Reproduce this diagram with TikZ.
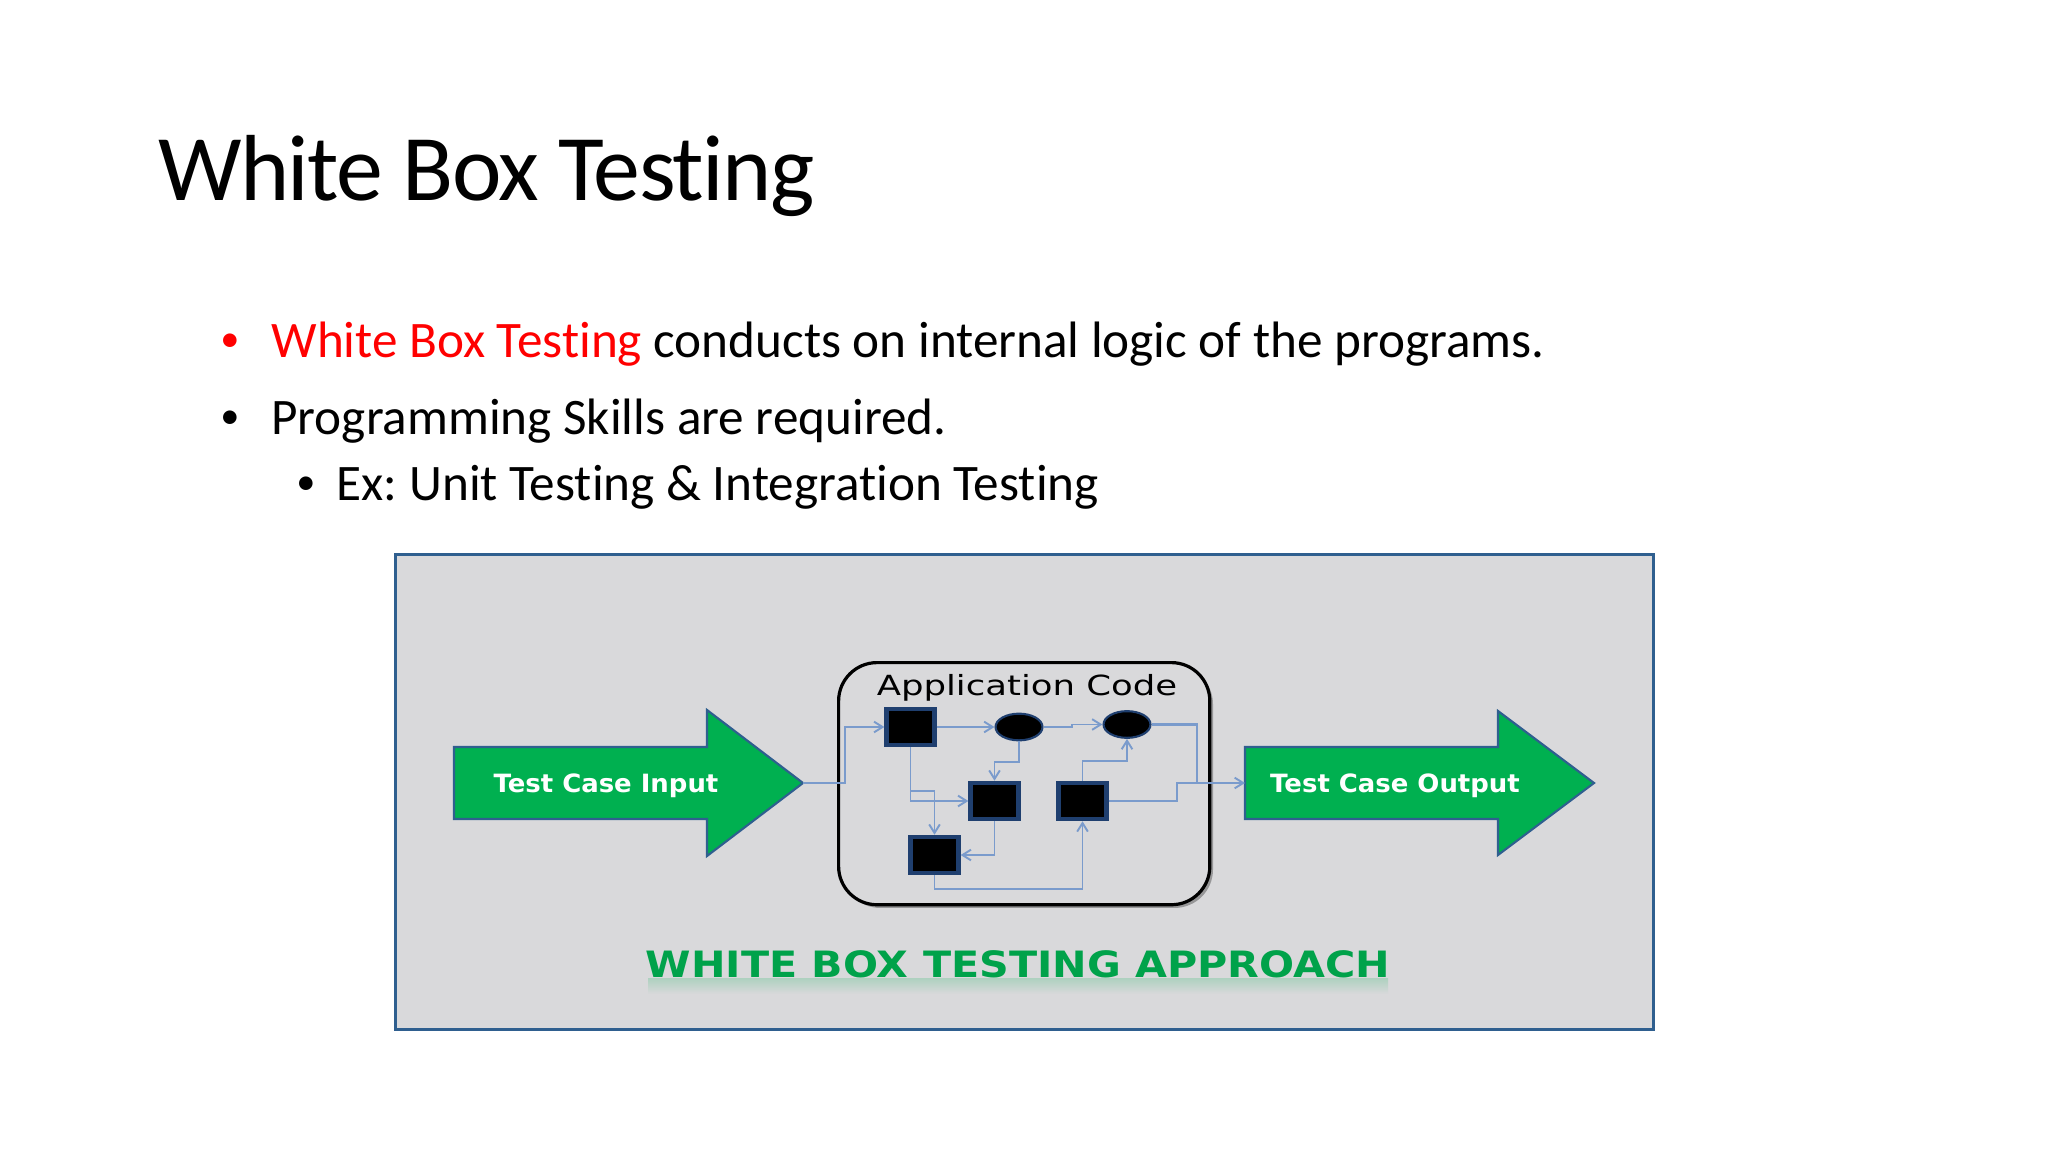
\documentclass[tikz,border=0pt]{standalone}
\usepackage{fontspec}
\usepackage{xcolor}
\usepackage{tikz}
\usetikzlibrary{arrows.meta,shapes.geometric,shadows,positioning}
\setmainfont[Ligatures=NoCommon]{Carlito}
\newfontfamily\imgfont{DejaVu Sans}
\definecolor{framefill}{HTML}{D9D9DB}
\definecolor{framedraw}{HTML}{2F5F8F}
\definecolor{arrowgreen}{HTML}{00B050}
\definecolor{wirecol}{HTML}{7A9BCC}
\definecolor{boxedge}{HTML}{1F3F6F}
\tikzset{
    block/.style={rectangle,draw=boxedge,line width=2pt,fill=black,minimum width=22.5pt,minimum height=17pt,inner sep=0pt},
    oval/.style={ellipse,draw=boxedge,line width=1pt,fill=black,minimum width=22pt,minimum height=12.5pt,inner sep=0pt},
    wire/.style={draw=wirecol,line width=0.9pt,-{Straight Barb[length=4pt,width=5pt]}},
    plainwire/.style={draw=wirecol,line width=1.3pt},
    bigarrow/.style={draw=framedraw,line width=1pt,fill=arrowgreen},
    arrowtext/.style={font=\imgfont\bfseries\fontsize{11.8}{14}\selectfont,text=white,xscale=1.03,transform shape},
    bullet/.style={font=\fontsize{24}{28}\selectfont,anchor=base west,inner sep=0pt},
    dotmark/.style={font=\fontsize{18}{20}\selectfont,anchor=base west,inner sep=0pt}
}
\begin{document}
\begin{tikzpicture}[x=0.46875pt,y=-0.46875pt]
    \useasboundingbox (0,0) rectangle (2048,1152);
    % heading and bullets
    \node [font=\fontsize{44}{50}\selectfont\addfontfeatures{LetterSpace=-1.8},anchor=base west,inner sep=0pt] (title) at (158,201) {White Box Testing};
    \node [dotmark,text=red] (dot1) at (220,351) {\textbullet};
    \node [bullet] (line1) at (271,357) {\textcolor{red}{White Box Testing} conducts on internal logic of the programs.};
    \node [dotmark] (dot2) at (220,428) {\textbullet};
    \node [bullet] (line2) at (271,434) {Programming Skills are required.};
    \node [dotmark] (dot3) at (296,494.5) {\textbullet};
    \node [bullet] (line3) at (336,500) {Ex:\hspace{-1.6pt} Unit Testing \& Integration Testing};
    % picture frame
    \node [rectangle,draw=framedraw,line width=1.5pt,fill=framefill,minimum width=589.5pt,minimum height=223pt,anchor=north west,inner sep=0pt] (frame) at (394,552.5) {};
    % code box
    \node [rectangle,rounded corners=18pt,draw=black,line width=1.5pt,fill=framefill,minimum width=174pt,minimum height=113.5pt,anchor=north west,inner sep=0pt,
        drop shadow={shadow xshift=1.5pt,shadow yshift=-1.5pt,opacity=0.3,fill=black}] (code) at (837,661) {};
    \node [font=\imgfont\fontsize{13}{15}\selectfont,text=black,xscale=1.28,transform shape] (codelabel) at (1027,687.5) {Application Code};
    % big arrows
    \draw [bigarrow] (454,747) -- (707,747) -- (707,710) -- (803,783) -- (707,856) -- (707,819) -- (454,819) -- cycle;
    \coordinate (intip) at (803,783);
    \draw [bigarrow] (1245,747) -- (1498,747) -- (1498,711) -- (1594,783) -- (1498,855) -- (1498,819) -- (1245,819) -- cycle;
    \coordinate (outtail) at (1245,783);
    \node [arrowtext] (inlabel) at (606,786) {Test Case Input};
    \node [arrowtext] (outlabel) at (1395,786) {Test Case Output};
    % blocks
    \node [block] (a) at (910.5,727) {};
    \node [oval] (p) at (1019,727) {};
    \node [oval] (q) at (1127,724.5) {};
    \node [block] (b) at (994.5,801) {};
    \node [block] (c) at (1082.5,801) {};
    \node [block] (d) at (934.5,855) {};
    % connectors
    \draw [wire] (intip) -| (845,727) -- (a);
    \draw [wire] (a) -- (p);
    \draw [wire] (p) -- (1072,727) -- (1072,724.5) -- (q);
    \draw [wire] (a.south) |- (b.west);
    \draw [wire] (910.5,791) -| (d.north);
    \draw [wire] (p.south) |- (994.5,762) -- (b.north);
    \draw [wire] (b.south) |- (d.east);
    \draw [wire] (d.south) |- (1082.5,889) -- (c.south);
    \draw [wire] (c.north) |- (1127,761) -- (q.south);
    \draw [plainwire] (q.east) -| (1197,783);
    \draw [wire] (c.east) -| (1177,783) -- (outtail);
    % caption
    \shade [top color=arrowgreen!20!framefill,bottom color=framefill] (648,978) rectangle (1388,994);
    \node [font=\imgfont\bfseries\fontsize{17}{20}\selectfont,text=arrowgreen!92!black,xscale=1.137,transform shape] (caption) at (1018,964) {WHITE BOX TESTING APPROACH};
\end{tikzpicture}
\end{document}
